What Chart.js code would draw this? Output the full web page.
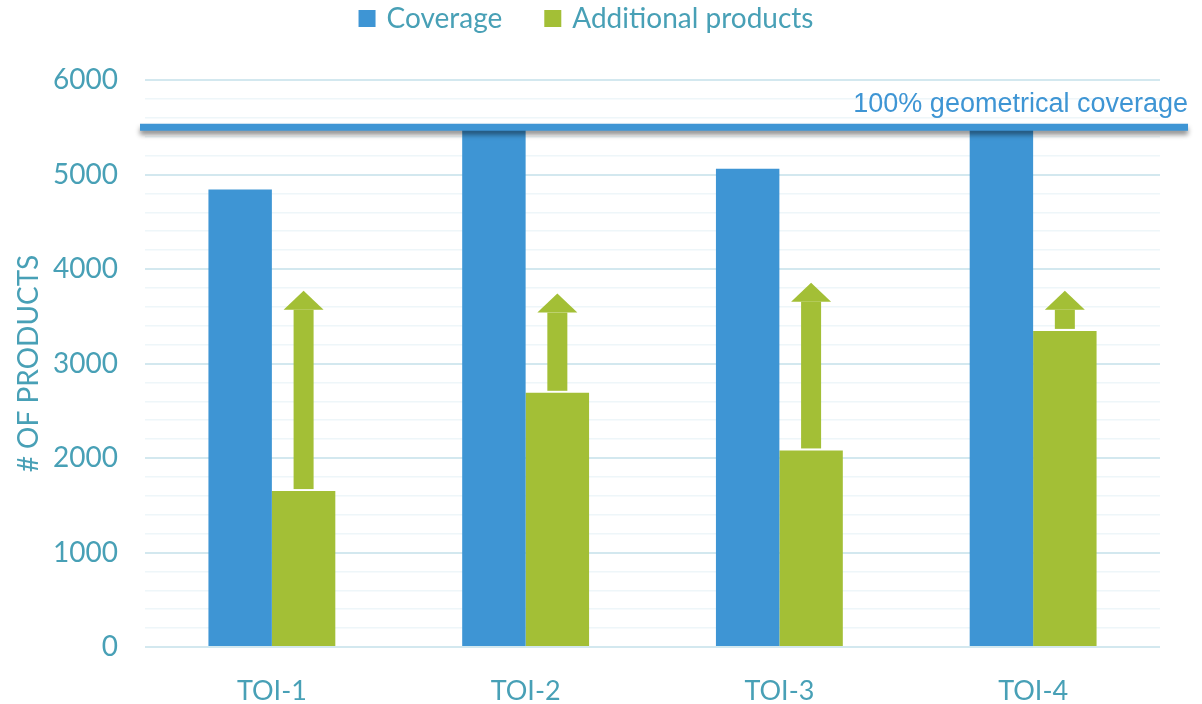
<!DOCTYPE html>
<html>
<head>
<meta charset="utf-8">
<script src="https://cdn.jsdelivr.net/npm/chart.js@4.4.0/dist/chart.umd.min.js"></script>
<style>
  html, body { margin: 0; padding: 0; background: #fff; overflow: hidden; }
  #wrap { width: 1202px; height: 704px; }
</style>
</head>
<body>
<div id="wrap"><canvas id="bar"></canvas></div>
<script>
const categories = ["TOI-1", "TOI-2", "TOI-3", "TOI-4"];
const coverage = [4840, 5500, 5060, 5500];
const additional = [1650, 2690, 2080, 3345];
const arrowTargets = [3770, 3740, 3855, 3770];
const yTicks = [0, 1000, 2000, 3000, 4000, 5000, 6000];
const fullCoverage = 5500;
const fullCoverageLabel = "100% geometrical coverage";

const blue = "#3e95d4";
const green = "#a3bf36";
const teal = "#48a0b6";

const extras = {
  id: "extras",
  afterDatasetsDraw(chart) {
    const ctx = chart.ctx;
    const y = chart.scales.y;
    const area = chart.chartArea;

    // arrows above the green bars
    const meta = chart.getDatasetMeta(1);
    ctx.save();
    ctx.fillStyle = green;
    meta.data.forEach((bar, i) => {
      const tip = y.getPixelForValue(arrowTargets[i]);
      const base = bar.y - 2;
      const x = bar.x;
      ctx.fillRect(x - 10, tip + 19, 20, base - tip - 19);
      ctx.beginPath();
      ctx.moveTo(x - 20, tip + 19);
      ctx.lineTo(x, tip);
      ctx.lineTo(x + 20, tip + 19);
      ctx.closePath();
      ctx.fill();
    });
    ctx.restore();

    // 100% line
    const ly = y.getPixelForValue(fullCoverage);
    ctx.save();
    ctx.shadowColor = "rgba(0,0,0,0.45)";
    ctx.shadowBlur = 5;
    ctx.shadowOffsetY = 4;
    ctx.strokeStyle = blue;
    ctx.lineWidth = 7;
    ctx.beginPath();
    ctx.moveTo(area.left - 5, ly);
    ctx.lineTo(1188, ly);
    ctx.stroke();
    ctx.restore();

    ctx.save();
    ctx.fillStyle = blue;
    ctx.font = "27px 'Liberation Sans', Arial, sans-serif";
    ctx.textAlign = "right";
    ctx.textBaseline = "alphabetic";
    ctx.fillText(fullCoverageLabel, 1188, ly - 15);
    ctx.restore();
  },
  afterDraw(chart) {
    // legend
    const ctx = chart.ctx;
    ctx.save();
    ctx.font = "28px Lato, sans-serif";
    ctx.textBaseline = "middle";
    const items = chart.data.datasets.map(d => ({ text: d.label, color: d.backgroundColor }));
    const box = 17, gap = 11, space = 42;
    let total = 0;
    items.forEach((it, i) => {
      it.w = box + gap + ctx.measureText(it.text).width;
      total += it.w + (i ? space : 0);
    });
    let x = 586 - total / 2;
    items.forEach(it => {
      ctx.fillStyle = it.color;
      ctx.fillRect(x, 10, box, box);
      ctx.fillStyle = teal;
      ctx.fillText(it.text, x + box + gap, 19);
      x += it.w + space;
    });
    ctx.restore();
  }
};

new Chart(document.getElementById("bar"), {
  type: "bar",
  data: {
    labels: categories,
    datasets: [
      { label: "Coverage", data: coverage, backgroundColor: blue, borderWidth: 0 },
      { label: "Additional products", data: additional, backgroundColor: green, borderWidth: 0 }
    ]
  },
  options: {
    responsive: true,
    maintainAspectRatio: false,
    animation: false,
    categoryPercentage: 0.5,
    barPercentage: 1.0,
    layout: { padding: { top: 80, left: 8, right: 42, bottom: 0 } },
    plugins: {
      legend: { display: false },
      tooltip: { enabled: false }
    },
    scales: {
      x: {
        grid: { display: false, drawTicks: false },
        border: { display: false },
        ticks: { color: teal, font: { family: "Lato", size: 27 }, padding: 28 },
        afterFit: s => { s.height = 57; }
      },
      y: {
        min: 0,
        max: 6000,
        border: { display: false },
        grid: {
          drawTicks: false,
          color: c => yTicks.includes(c.tick.value) ? "#d3e8ef" : "#eef6f9",
          lineWidth: c => yTicks.includes(c.tick.value) ? 2 : 1.5
        },
        ticks: {
          stepSize: 200,
          autoSkip: false,
          padding: 27,
          color: teal,
          font: { family: "Lato", size: 28 },
          callback: v => yTicks.includes(v) ? v : ""
        },
        title: {
          display: true,
          text: "# OF PRODUCTS",
          color: teal,
          font: { family: "Lato", size: 28 },
          padding: { top: 4, bottom: 4 }
        },
        afterFit: s => { s.width = 137; }
      }
    }
  },
  plugins: [extras]
});
</script>
</body>
</html>
